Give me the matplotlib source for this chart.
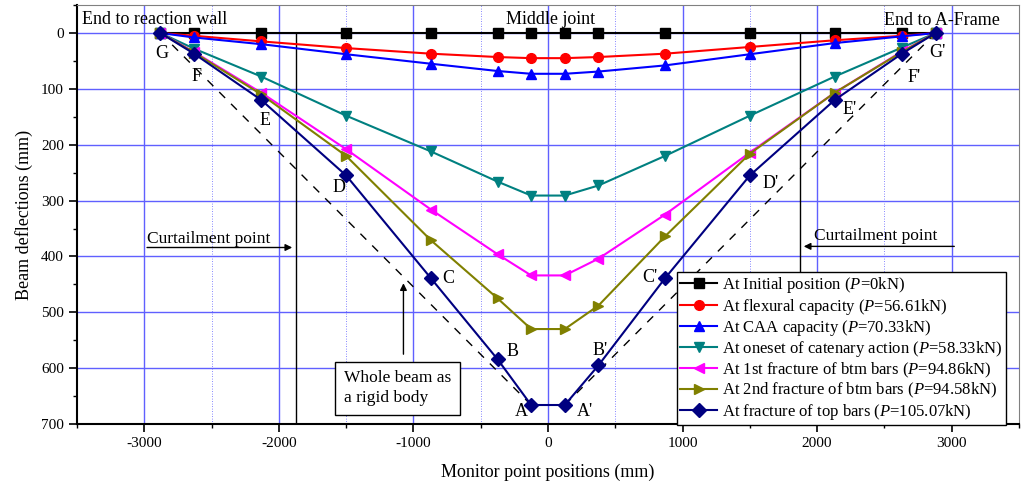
import matplotlib
matplotlib.use("Agg")
from matplotlib import pyplot as plt
from matplotlib.ticker import MultipleLocator

plt.rcParams['font.family'] = ['Liberation Serif', 'DejaVu Serif']
plt.rcParams['mathtext.fontset'] = 'custom'
plt.rcParams['mathtext.it'] = 'Liberation Serif:italic'
plt.rcParams['mathtext.rm'] = 'Liberation Serif'
plt.rcParams['axes.unicode_minus'] = False

# monitor point positions (mm)
pos = [-2880, -2630, -2130, -1500, -870, -375, -125, 125, 375, 870, 1500, 2130, 2630, 2880]

# deflections (mm)
initial = [0] * 14
flexural = [0, 5, 15, 27, 37, 43, 45, 45, 43, 37, 25, 13, 5, 0]
caa = [0, 8, 20, 38, 55, 68, 73, 73, 69, 58, 38, 18, 6, 0]
catenary = [0, 28, 78, 148, 212, 266, 291, 291, 273, 220, 148, 78, 26, 0]
frac1 = [0, 34, 107, 208, 316, 396, 434, 434, 404, 325, 214, 107, 33, 0]
frac2 = [0, 35, 110, 220, 371, 475, 530, 530, 488, 364, 216, 107, 34, 0]
frac_top = [0, 37, 120, 255, 439, 584, 666, 666, 595, 439, 255, 120, 37, 0]

labels = ["At Initial position ($P$=0kN)",
          "At flexural capacity ($P$=56.61kN)",
          "At CAA capacity ($P$=70.33kN)",
          "At oneset of catenary action ($P$=58.33kN)",
          "At 1st fracture of btm bars ($P$=94.86kN)",
          "At 2nd fracture of btm bars ($P$=94.58kN)",
          "At fracture of top bars ($P$=105.07kN)"]
series = [initial, flexural, caa, catenary, frac1, frac2, frac_top]
colors = ['black', 'red', 'blue', '#008080', 'magenta', '#808000', '#000080']
markers = ['s', 'o', '^', 'v', '<', '>', 'D']

# point labels
pt_names = ['G', 'F', 'E', 'D', 'C', 'B', 'A', "A'", "B'", "C'", "D'", "E'", "F'", "G'"]
pt_x = [-2870, -2610, -2100, -1555, -740, -260, -200, 274, 385, 760, 1652, 2244, 2720, 2895]
pt_y = [37, 77, 156, 277, 439, 571, 678, 678, 568, 437, 270, 137, 79, 35]

fig = plt.figure(figsize=(10.21, 4.94), dpi=100)
ax = fig.add_axes([0.0754, 0.1417, 0.9226, 0.848])

ax.set_xlim(-3500, 3500)
ax.set_ylim(700, -50)
ax.xaxis.set_major_locator(MultipleLocator(1000))
ax.xaxis.set_minor_locator(MultipleLocator(500))
ax.yaxis.set_major_locator(MultipleLocator(100))
ax.yaxis.set_minor_locator(MultipleLocator(50))
ax.grid(True, which='major', color='#6060ff', linewidth=1.0)
ax.grid(True, which='minor', axis='x', color='#6060ff', linewidth=0.6, linestyle=(0, (1, 2)))
ax.set_axisbelow(True)
ax.tick_params(which='major', direction='out', length=6, width=1.2, labelsize=11)
ax.tick_params(which='minor', direction='out', length=3, width=1.0)
for s in ['left', 'bottom']:
    ax.spines[s].set_linewidth(1.5)
for s in ['top', 'right']:
    ax.spines[s].set_color('gray')

# curtailment lines
for xc in [-1875, 1875]:
    ax.plot([xc, xc], [0, 700], color='black', linewidth=1.0, zorder=2)

# rigid body dashed lines
ax.plot([pos[0], pos[6]], [0, 666], color='black', linestyle=(0, (6, 6)), linewidth=1.0, zorder=2)
ax.plot([pos[-1], pos[7]], [0, 666], color='black', linestyle=(0, (6, 6)), linewidth=1.0, zorder=2)

for ys, lab, c, m in zip(series, labels, colors, markers):
    ax.plot(pos, ys, color=c, marker=m, markersize=7, linewidth=1.5, label=lab, zorder=3)

for n, x, y in zip(pt_names, pt_x, pt_y):
    ax.text(x, y, n, fontsize=13, ha='center', va='center', zorder=4)

ax.text(-3460, -25, "End to reaction wall", fontsize=13, ha='left', va='center')
ax.text(20, -25, "Middle joint", fontsize=13, ha='center', va='center')
ax.text(3360, -22, "End to A-Frame", fontsize=13, ha='right', va='center')

ax.text(-2980, 368, "Curtailment point", fontsize=12.5, ha='left', va='center')
ax.annotate("", xy=(-1880, 384), xytext=(-3000, 384),
            arrowprops=dict(arrowstyle='-|>', color='black', lw=1.0))
ax.text(1980, 364, "Curtailment point", fontsize=12.5, ha='left', va='center')
ax.annotate("", xy=(1880, 382), xytext=(3040, 382),
            arrowprops=dict(arrowstyle='-|>', color='black', lw=1.0))

ax.annotate("", xy=(-1074, 443), xytext=(-1074, 580),
            arrowprops=dict(arrowstyle='-|>', color='black', lw=1.0))
ax.text(-1515, 636, "Whole beam as\na rigid body", fontsize=12.5, ha='left', va='center',
        linespacing=1.3,
        bbox=dict(boxstyle='square,pad=0.5', facecolor='white', edgecolor='black', linewidth=1.0),
        zorder=5)

leg = ax.legend(loc='upper left', bbox_to_anchor=(0.637, 0.363), borderaxespad=0,
                fontsize=12, labelspacing=0.08, handlelength=2.2, handletextpad=0.3,
                borderpad=0.2, fancybox=False, framealpha=1, edgecolor='black')
leg.get_frame().set_linewidth(1.0)
leg.set_zorder(6)

ax.set_xlabel("Monitor point positions (mm)", fontsize=13, labelpad=10)
ax.set_ylabel("Beam deflections (mm)", fontsize=13, labelpad=6)

fig.savefig("out.png", dpi=100)
plt.close('all')
